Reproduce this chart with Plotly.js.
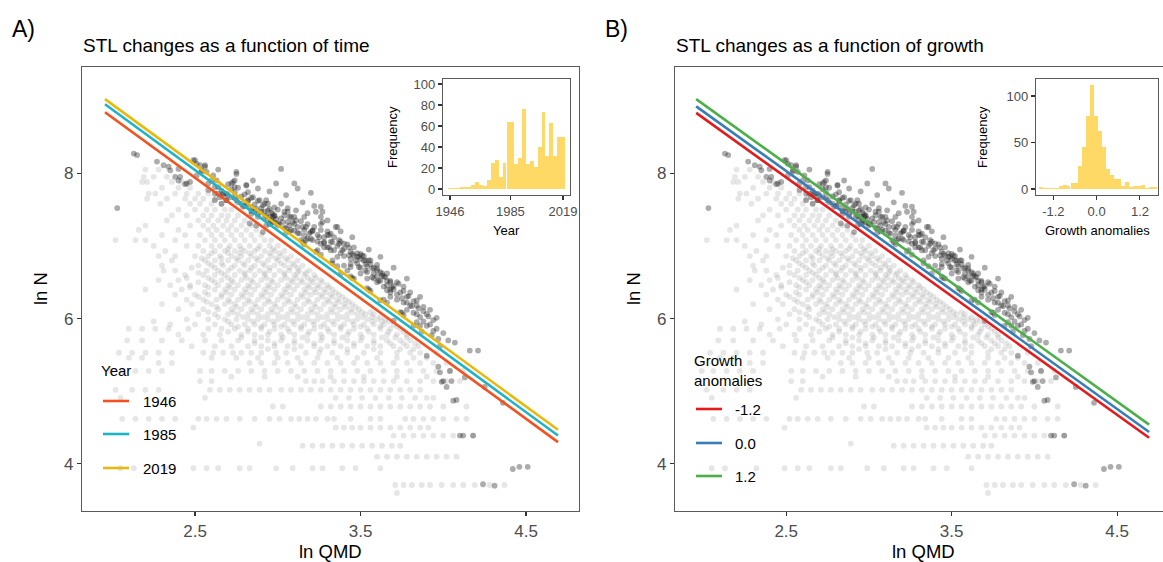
<!DOCTYPE html>
<html><head><meta charset="utf-8">
<script src="https://cdn.plot.ly/plotly-3.0.1.min.js"></script>
<style>html,body{margin:0;padding:0;background:#fff}#chart{width:1163px;height:562px}</style>
</head><body><div id="chart"></div>
<script>
// ---------- DATA ----------
// light grey points: [lnN, [lnQMD, ...]]
const lightRows = [
 [8.05,[2.20,2.28]],
 [7.95,[2.19,2.25,2.33]],
 [7.88,[2.18,2.21,2.36,2.42]],
 [7.80,[2.30,2.40,2.47]],
 [7.72,[2.22,2.26,2.38,2.45,2.52,2.58]],
 [7.65,[2.21,2.33,2.44,2.50,2.55,2.62]],
 [7.58,[2.29,2.47,2.53,2.60,2.66]],
 [7.50,[2.40,2.50,2.57,2.62,2.68,2.72]],
 [7.42,[2.36,2.45,2.55,2.60,2.66,2.70,2.76]],
 [7.35,[2.33,2.52,2.58,2.64,2.69,2.74,2.80]],
 [7.28,[2.20,2.47,2.55,2.61,2.67,2.72,2.78,2.84]],
 [7.22,[2.16,2.40,2.58,2.63,2.70,2.75,2.81,2.87]],
 [7.15,[2.30,2.44,2.53,2.60,2.66,2.72,2.78,2.84,2.90]],
 [7.08,[2.02,2.14,2.20,2.38,2.56,2.62,2.68,2.74,2.80,2.86,2.92,2.96]],
 [7.00,[2.25,2.45,2.52,2.60,2.65,2.71,2.77,2.83,2.89,2.95,3.00]],
 [6.96,[2.70,2.78,2.88,2.97]],
 [6.93,[2.32,2.55,2.62,2.68,2.74,2.80,2.86,2.92,2.98,3.04]],
 [6.90,[2.60,2.70,2.77,2.83,2.95,3.01]],
 [6.86,[2.28,2.38,2.50,2.58,2.65,2.72,2.78,2.84,2.90,2.96,3.02,3.08]],
 [6.83,[2.54,2.66,2.75,2.87,2.99,3.05]],
 [6.80,[2.36,2.56,2.62,2.70,2.76,2.82,2.88,2.94,3.00,3.06,3.12]],
 [6.76,[2.58,2.66,2.79,2.91,3.02,3.09]],
 [6.73,[2.30,2.52,2.60,2.67,2.74,2.80,2.86,2.92,2.98,3.04,3.10,3.15]],
 [6.70,[2.48,2.62,2.72,2.84,2.95,3.07,3.12]],
 [6.66,[2.31,2.38,2.57,2.64,2.70,2.77,2.83,2.89,2.95,3.01,3.07,3.13,3.19]],
 [6.63,[2.52,2.66,2.80,2.92,3.04,3.12,3.17]],
 [6.60,[2.44,2.55,2.62,2.68,2.74,2.80,2.86,2.92,2.98,3.04,3.10,3.16,3.22]],
 [6.56,[2.45,2.58,2.70,2.81,2.93,3.05,3.11,3.18,3.23]],
 [6.53,[2.28,2.40,2.60,2.66,2.72,2.78,2.84,2.90,2.96,3.02,3.08,3.14,3.20,3.26]],
 [6.50,[2.52,2.62,2.73,2.85,2.97,3.09,3.15,3.21,3.27]],
 [6.46,[2.35,2.47,2.56,2.64,2.70,2.76,2.82,2.88,2.94,3.00,3.06,3.12,3.18,3.24,3.30]],
 [6.43,[2.47,2.58,2.71,2.83,2.95,3.07,3.19,3.25,3.31]],
 [6.40,[2.20,2.42,2.62,2.68,2.74,2.80,2.86,2.92,2.98,3.04,3.10,3.16,3.22,3.28,3.33]],
 [6.36,[2.56,2.69,2.81,2.93,3.05,3.17,3.23,3.29,3.35]],
 [6.33,[2.38,2.50,2.58,2.66,2.72,2.78,2.84,2.90,2.96,3.02,3.08,3.14,3.20,3.26,3.32,3.37]],
 [6.30,[2.52,2.66,2.79,2.91,3.03,3.15,3.27,3.33,3.39]],
 [6.26,[2.45,2.55,2.63,2.70,2.76,2.82,2.88,2.94,3.00,3.06,3.12,3.18,3.24,3.30,3.36,3.41]],
 [6.23,[2.57,2.71,2.83,2.95,3.07,3.19,3.31,3.37,3.43]],
 [6.20,[2.30,2.48,2.60,2.68,2.74,2.80,2.86,2.92,2.98,3.04,3.10,3.16,3.22,3.28,3.34,3.40,3.45]],
 [6.16,[2.63,2.75,2.87,2.99,3.11,3.23,3.35,3.41,3.47]],
 [6.13,[2.40,2.55,2.64,2.72,2.78,2.84,2.90,2.96,3.02,3.08,3.14,3.20,3.26,3.32,3.38,3.44,3.49]],
 [6.09,[2.58,2.73,2.85,2.97,3.09,3.21,3.33,3.45,3.51,3.56]],
 [6.06,[2.52,2.62,2.70,2.76,2.82,2.88,2.94,3.00,3.06,3.12,3.18,3.24,3.30,3.36,3.42,3.48,3.53,3.58]],
 [6.02,[2.64,2.79,2.91,3.03,3.15,3.27,3.39,3.51,3.57,3.62]],
 [5.99,[2.45,2.58,2.68,2.75,2.82,2.88,2.94,3.00,3.06,3.12,3.18,3.24,3.30,3.36,3.42,3.48,3.54,3.60,3.65]],
 [5.96,[2.25,2.70,2.85,2.97,3.09,3.21,3.33,3.45,3.57,3.63,3.67]],
 [5.92,[2.35,2.50,2.62,2.72,2.80,2.86,2.92,2.98,3.04,3.10,3.16,3.22,3.28,3.34,3.40,3.46,3.52,3.58,3.64,3.70]],
 [5.89,[2.76,2.90,3.02,3.14,3.26,3.38,3.50,3.62,3.72]],
 [5.86,[2.10,2.18,2.26,2.34,2.46,2.58,2.66,2.74,2.82,2.90,2.98,3.06,3.14,3.22,3.30,3.38,3.46,3.54,3.62,3.68,3.74]],
 [5.82,[2.70,2.82,2.95,3.07,3.19,3.31,3.43,3.55,3.67,3.76]],
 [5.78,[2.40,2.55,2.65,2.78,2.86,2.94,3.02,3.10,3.18,3.26,3.34,3.42,3.50,3.58,3.66,3.72,3.78]],
 [5.74,[2.78,2.90,3.03,3.15,3.27,3.39,3.51,3.63,3.71,3.78]],
 [5.70,[2.09,2.18,2.30,2.42,2.56,2.66,2.76,2.86,2.94,3.02,3.10,3.18,3.26,3.34,3.42,3.50,3.58,3.66,3.74,3.80]],
 [5.66,[2.86,2.98,3.10,3.22,3.34,3.46,3.58,3.68,3.76,3.83]],
 [5.62,[2.48,2.62,2.72,2.82,2.90,2.98,3.06,3.14,3.22,3.30,3.38,3.46,3.54,3.62,3.70,3.78,3.85]],
 [5.58,[2.94,3.10,3.26,3.42,3.58,3.74,3.82]],
 [5.53,[2.04,2.12,2.20,2.28,2.36,2.55,2.61,2.67,2.73,2.78,2.84,2.90,2.99,3.05,3.17,3.25,3.33,3.42,3.52,3.62,3.72,3.80,3.86,3.96]],
 [5.46,[2.10,2.18,2.60,2.75,2.88,3.00,3.12,3.24,3.36,3.48,3.60,3.72,3.82,3.90]],
 [5.39,[2.28,2.36,2.83,2.90,2.98,3.06,3.14,3.22,3.30,3.38,3.46,3.54,3.62,3.70,3.78,3.86,3.94,4.02]],
 [5.28,[1.99,2.06,2.14,2.22,2.30,2.53,2.60,2.68,2.76,2.84,2.92,3.00,3.08,3.16,3.24,3.32,3.40,3.48,3.56,3.64,3.72,3.80,3.88,3.96,4.04,4.12]],
 [5.20,[2.72,2.92,3.12,3.32,3.52,3.72,3.90]],
 [5.14,[2.53,2.60,3.17,3.22,3.27,3.34,3.40,3.46,3.52,3.58,3.64,3.70,3.78,3.86,3.94,4.02,4.10]],
 [5.02,[2.02,2.12,2.20,2.28,2.59,2.65,2.71,2.77,2.83,2.89,2.95,3.02,3.08,3.14,3.20,3.26,3.32,3.38,3.44,3.50,3.56,3.62,3.68,3.74,3.80,3.86]],
 [4.91,[2.05,2.56,3.35,3.43,3.51,3.59,3.67,3.75,3.83,3.90,3.94]],
 [4.79,[2.97,3.03,3.26,3.32,3.38,3.44,3.50,3.56,3.62,3.68,3.74,3.80,3.86,3.92,4.00,4.14]],
 [4.62,[2.06,2.14,2.22,2.30,2.38,2.52,2.57,2.63,2.69,2.77,2.86,2.95,3.01,3.08,3.13,3.18,3.23,3.30,3.34,3.44,3.56,3.62,3.77,3.82,3.88,3.94,4.00,4.08,4.14]],
 [4.50,[2.49,3.35,3.40,3.45,3.50,3.56,3.62,3.68,3.74,3.80,3.86,3.91]],
 [4.39,[3.70,3.76,3.82,3.88,3.94,4.00,4.06,4.18]],
 [4.28,[2.89]],
 [4.25,[3.15,3.21,3.27,3.33,3.39,3.45,3.51,3.57,3.63,3.69,3.74]],
 [4.10,[3.60,3.66,3.72,3.78,3.84,3.90,3.96,4.02,4.08]],
 [3.94,[2.05,2.13,2.32,2.49,2.57,2.64,2.77,2.83,2.99,3.09,3.21,3.27,3.39,3.47,3.62]],
 [3.71,[3.71,3.76,3.81,3.87,3.92,3.99,4.06,4.12,4.19,4.28,4.37]],
 [3.60,[3.72]]
];
// dark points (self-thinning boundary): [lnQMD, lnN]
const darkPts = [
 [2.03,7.52],[2.13,8.27],[2.15,8.25],[2.27,8.16],[2.31,8.11],[2.34,8.09],[2.35,8.04],[2.40,8.06],[2.41,7.95],[2.45,7.86],
 [2.47,7.88],[2.50,8.18],[2.53,8.11],[2.56,8.11],[2.51,7.97],[2.54,8.02],[2.61,7.97],[2.63,7.90],[2.58,7.86],[2.64,7.81],
 [2.62,7.72],[2.67,7.70],[2.69,7.63],[2.66,7.58],[2.73,7.88],[2.75,7.99],[2.74,7.81],[2.81,7.83],[2.82,7.74],[2.85,7.67],
 [2.88,7.79],[2.89,7.63],[2.91,7.56],[2.93,7.63],[2.95,7.51],[2.97,7.44],[2.98,7.53],[3.02,8.06],[3.02,7.58],[3.04,7.47],
 [3.07,7.40],[3.09,7.33],[3.10,7.86],[3.12,7.79],[3.11,7.49],[3.16,7.40],[3.17,7.26],[3.20,7.73],[3.21,7.21],[3.23,7.47],
 [3.26,7.40],[3.27,7.33],[3.30,7.15],[3.32,7.17],[3.36,7.26],[3.37,7.08],[3.40,7.03],[3.43,6.98],[3.46,6.87],[3.48,6.85],
 [3.50,6.89],[3.52,6.80],[3.53,6.80],[3.56,6.75],[3.60,6.66],[3.63,6.59],[3.64,6.44],[3.60,6.50],[3.54,6.55],[3.50,6.62],
 [3.44,6.71],[3.40,6.73],[3.36,6.85],[3.32,6.94],[3.28,6.98],[3.26,7.03],[3.24,6.94],[3.21,7.08],[3.18,7.10],[3.13,7.17],
 [3.10,7.21],[3.07,7.28],[3.03,7.33],[2.99,7.37],[2.97,7.40],[2.93,7.42],[2.90,7.47],[2.87,7.51],[2.84,7.53],[2.81,7.56],
 [2.78,7.58],[2.75,7.63],[2.72,7.67],[2.69,7.72],[2.66,7.76],[2.64,7.72],[2.62,7.63],[2.99,7.86],[3.66,6.52],[3.68,6.40],
 [3.70,6.45],[3.72,6.33],[3.73,6.48],[3.75,6.28],[3.76,6.38],[3.78,6.22],[3.79,6.31],[3.81,6.17],[3.82,6.08],[3.84,6.25],
 [3.85,6.14],[3.86,6.02],[3.88,6.10],[3.90,5.90],[3.91,6.03],[3.93,5.77],[3.94,5.83],[3.96,6.01],[3.97,5.72],[3.98,5.26],
 [4.00,5.14],[4.02,5.06],[4.05,5.14],[4.07,5.67],[4.08,4.88],[4.10,4.39],[4.12,4.39],[4.13,5.19],[4.16,5.56],[4.18,4.39],
 [4.21,5.56],[4.24,3.72],[4.25,5.06],[4.31,3.70],[4.36,4.84],[4.42,3.93],[4.46,3.96],[4.51,3.96],[3.84,5.95],[3.70,5.97],
 [3.90,5.49],[3.97,5.34],[3.99,5.13],[4.04,5.28],[4.06,4.87],[3.82,5.90],[3.87,5.82],[3.75,6.08],[3.62,6.25],[3.55,6.40],
 [3.45,6.56],[3.38,6.62],[3.15,7.05],[3.05,7.18],[2.95,7.30],[3.33,6.80],[3.42,6.66],[3.58,6.55],[3.68,6.30],[3.78,6.12],
 [2.38,7.95],[2.40,7.90],[2.44,7.85],[2.49,8.18],[2.51,8.13],[2.54,8.04],[2.57,8.02],[2.56,8.09],[2.60,7.90],[2.62,7.81],
 [2.58,7.77],[2.64,8.05],[2.67,7.72],[2.65,7.67],[2.69,7.63],[2.72,7.86],[2.75,8.02],[2.74,7.90],[2.81,7.84],[2.82,7.63],
 [2.79,7.54],[2.84,7.44],[2.86,7.47],[2.88,7.40],[2.83,7.31],[2.87,7.28],[2.92,7.58],[2.94,7.49],[2.98,7.42],[2.96,7.35],
 [3.00,7.31],[2.93,7.28],[2.91,7.19],[3.06,7.47],[3.08,7.40],[3.11,7.35],[3.15,7.26],[3.19,7.17],[3.17,7.08],[3.21,7.21],
 [3.27,7.47],[3.26,7.54],[3.25,7.12],[3.28,7.05],[3.31,7.15],[3.35,7.26],[3.33,7.05],[3.37,7.03],[3.31,6.98],[3.39,6.94],
 [3.43,6.87],[3.45,6.89],[3.47,6.80],[3.49,6.85],[3.51,6.87],[3.53,6.75],[3.55,6.80],[3.57,6.69],[3.60,6.69],[3.63,6.62],
 [3.65,6.57],[3.68,6.50],[3.69,6.43],[3.66,6.39],[3.61,6.52],[3.57,6.57],[3.53,6.66],[3.49,6.71],[3.44,6.75],
 [2.70,7.70],[2.70,7.85],[2.72,7.78],[2.74,7.66],[2.74,7.74],[2.76,7.80],[2.76,7.60],[2.78,7.68],[2.80,7.55],[2.80,7.71],
 [2.82,7.62],[2.84,7.48],[2.84,7.66],[2.86,7.57],[2.88,7.44],[2.88,7.62],[2.90,7.52],[2.92,7.40],[2.92,7.47],[2.94,7.58],
 [2.94,7.36],[2.96,7.46],[2.98,7.32],[2.98,7.41],[3.00,7.50],[3.00,7.28],[3.02,7.38],[3.04,7.25],[3.04,7.42],[3.06,7.33],
 [3.06,7.52],[3.08,7.22],[3.10,7.30],[3.10,7.40],[3.12,7.18],[3.12,7.26],[3.14,7.34],[3.16,7.14],[3.16,7.22],[3.18,7.30],
 [3.18,7.45],[3.20,7.10],[3.20,7.19],[3.22,7.26],[3.24,7.06],[3.24,7.15],[3.26,7.22],[3.26,7.30],[3.28,7.04],[3.28,7.12],
 [3.30,6.98],[3.30,7.20],[3.32,7.06],[3.34,6.94],[3.34,7.12],[3.36,7.00],[3.38,6.90],[3.38,7.06],[3.40,6.96],[3.40,6.86],
 [3.42,7.02],[3.44,6.82],[3.44,6.92],[3.46,6.98],[3.48,6.76],[3.48,6.90],[3.50,6.82],[3.50,6.70],[3.52,6.86],[3.54,6.72],
 [3.54,6.64],[3.56,6.80],[3.58,6.62],[3.58,6.70],[3.60,6.58],[3.60,6.74],[3.62,6.52],[3.62,6.64],[3.64,6.58],[3.66,6.46],
 [3.66,6.62],[3.68,6.36],[3.68,6.52],[3.70,6.40],[3.72,6.50],[3.72,6.26],[3.74,6.36],[3.76,6.22],[3.76,6.44],[3.78,6.30],
 [3.80,6.18],[3.80,6.36],[3.82,6.24],[3.84,6.06],[3.84,6.18],[3.86,6.30],[3.88,5.96],[3.88,6.16],[3.90,6.06],[3.92,5.92],
 [3.92,6.12],[3.94,5.98],[3.96,5.86],[4.00,5.80],[4.03,5.70],[3.98,5.62],
 [2.95,7.40],[2.97,7.33],[3.01,7.30],[3.05,7.24],[3.07,7.20],[3.14,7.08],[3.16,7.02],[3.23,6.92],[3.26,6.88],[3.33,6.76],
 [3.36,6.72],[3.44,6.58],[3.46,6.55],[3.54,6.42],[3.56,6.38],[3.64,6.26],[3.66,6.22],[3.74,6.09],[3.76,6.05],[3.86,5.90],
 [3.05,7.70],[3.15,7.60],[3.22,7.55],[3.30,7.35],[3.38,7.20],[3.45,7.12],[3.55,6.95],[3.62,6.85],[3.70,6.70],[3.78,6.55],
 [2.85,7.90],[2.95,7.75]
];
// fitted lines
const fitQMD = [1.956, 4.693];
const yearLevels = ['1946','1985','2019'];
const yearFitLnN = [[8.84,4.30],[8.95,4.39],[9.02,4.47]];
const growthLevels = ['-1.2','0.0','1.2'];
const growthFitLnN = [[8.83,4.36],[8.92,4.44],[9.02,4.54]];
// inset histograms
const yearBins = [1946.0,1948.5,1951.0,1953.6,1956.1,1958.6,1961.1,1963.6,1966.1,1968.7,1971.2,1973.7,1976.2,1978.7,1981.2,1983.8,1986.3,1988.8,1991.3,1993.8,1996.3,1998.9,2001.4,2003.9,2006.4,2008.9,2011.4,2014.0,2016.5,2019.0];
const yearFreq = [1,1,1,2,2,2,4,7,4,3,9,25,28,11,25,64,64,24,30,76,24,27,21,40,73,31,63,31,50,50];
const growthBins = [-1.53,-1.43,-1.32,-1.21,-1.10,-0.99,-0.88,-0.78,-0.67,-0.56,-0.45,-0.34,-0.23,-0.13,-0.02,0.09,0.20,0.31,0.42,0.52,0.63,0.74,0.85,0.96,1.07,1.17,1.28,1.39,1.50,1.61];
const growthFreq = [2,1,1,1,1,3,4,3,6,6,25,45,78,112,78,62,45,22,15,11,11,3,7,2,3,3,4,1,2,2];
const mainTicks = [2.5,3.5,4.5];
const lnNTicks = [4,6,8];
const yearTicks = [1946,1985,2019];
const yearFreqTicks = [0,20,40,60,80,100];
const growthTicks = [-1.2,0,1.2];
const growthTickText = ['-1.2','0.0','1.2'];
const growthFreqTicks = [0,50,100];

// ---------- STYLE ----------
const W = 1163, H = 562;
const FONT = 'Liberation Sans, Arial, Helvetica, sans-serif';
const yearColors = ['#F4511E','#1EB4C8','#E8B80A'];
const growthColors = ['#E41A1C','#377EB8','#4DAF4A'];
const histColor = '#FFD966';
const px = v => v / W, py = v => 1 - v / H;

const lightX = [], lightY = [];
lightRows.forEach(([y, xs]) => xs.forEach(x => { lightX.push(x); lightY.push(y); }));
const darkX = darkPts.map(p => p[0]), darkY = darkPts.map(p => p[1]);

const traces = [];
function panel(xa, ya, levels, fits, colors) {
  traces.push({type:'scatter', mode:'markers', x:lightX, y:lightY, xaxis:xa, yaxis:ya,
    marker:{size:5.8, color:'rgba(150,150,150,0.24)', line:{width:0}}, hoverinfo:'skip', showlegend:false});
  traces.push({type:'scatter', mode:'markers', x:darkX, y:darkY, xaxis:xa, yaxis:ya,
    marker:{size:5.8, color:'rgba(25,25,25,0.36)', line:{width:0}}, hoverinfo:'skip', showlegend:false});
  levels.forEach((lv, i) => traces.push({type:'scatter', mode:'lines', x:fitQMD, y:fits[i], xaxis:xa, yaxis:ya,
    name:lv, line:{color:colors[i], width:2.6}, showlegend:false}));
}
panel('x','y', yearLevels, yearFitLnN, yearColors);
panel('x2','y2', growthLevels, growthFitLnN, growthColors);
traces.push({type:'bar', x:yearBins, y:yearFreq, width:2.517, xaxis:'x3', yaxis:'y3',
  marker:{color:histColor, line:{width:0}}, showlegend:false});
traces.push({type:'bar', x:growthBins, y:growthFreq, width:0.1083, xaxis:'x4', yaxis:'y4',
  marker:{color:histColor, line:{width:0}}, showlegend:false});

const axBase = {showgrid:false, zeroline:false, showline:true, mirror:true, linecolor:'#5a5a5a', linewidth:1.1,
  ticks:'outside', ticklen:4, tickwidth:1.1, tickcolor:'#333', fixedrange:true};
const mainTickFont = {family:FONT, size:17, color:'#4d4d4d'};
const insetTickFont = {family:FONT, size:13, color:'#4d4d4d'};
const yMainDom = [py(511), py(67)];
const yInsDom = [py(195), py(79)];

const layout = {
  width:W, height:H, margin:{l:0,r:0,t:0,b:0}, paper_bgcolor:'#fff', plot_bgcolor:'rgba(0,0,0,0)',
  showlegend:false, bargap:0,
  xaxis: Object.assign({}, axBase, {domain:[px(82), px(579)], range:[1.817,4.820], tickvals:mainTicks, ticktext:['2.5','3.5','4.5'], tickfont:mainTickFont, anchor:'y'}),
  yaxis: Object.assign({}, axBase, {domain:yMainDom, range:[3.352,9.462], tickvals:lnNTicks, tickfont:mainTickFont, anchor:'x'}),
  xaxis2: Object.assign({}, axBase, {domain:[px(675), 1], range:[1.828,4.777], tickvals:mainTicks, ticktext:['2.5','3.5','4.5'], tickfont:mainTickFont, anchor:'y2'}),
  yaxis2: Object.assign({}, axBase, {domain:yMainDom, range:[3.352,9.462], tickvals:lnNTicks, tickfont:mainTickFont, anchor:'x2'}),
  xaxis3: Object.assign({}, axBase, {domain:[px(443), px(570)], range:[1941.5,2023.5], tickvals:yearTicks, tickfont:insetTickFont, anchor:'y3'}),
  yaxis3: Object.assign({}, axBase, {domain:yInsDom, range:[-5.7,104.8], tickvals:yearFreqTicks, tickfont:insetTickFont, anchor:'x3'}),
  xaxis4: Object.assign({}, axBase, {domain:[px(1036), px(1158)], range:[-1.68,1.70], tickvals:growthTicks, ticktext:growthTickText, tickfont:insetTickFont, anchor:'y4'}),
  yaxis4: Object.assign({}, axBase, {domain:yInsDom, range:[-6.45,118.3], tickvals:growthFreqTicks, tickfont:insetTickFont, anchor:'x4'}),
  shapes:[], annotations:[]
};

function txt(text, x, y, size, opts) {
  layout.annotations.push(Object.assign({text:text, x:px(x), y:py(y), xref:'paper', yref:'paper', showarrow:false,
    xanchor:'left', yanchor:'middle', font:{family:FONT, size:size, color:'#000'}}, opts||{}));
}
// panel letters and titles
txt('A)', 10, 29, 23); txt('B)', 603, 29, 23);
txt('STL changes as a function of time', 81, 46, 19);
txt('STL changes as a function of growth', 674, 46, 19);
// axis titles
txt('ln QMD', 330, 551, 18.5, {xanchor:'center'});
txt('ln QMD', 923, 551, 18.5, {xanchor:'center'});
txt('ln N', 40, 289, 18.5, {xanchor:'center', textangle:-90});
txt('ln N', 633, 289, 18.5, {xanchor:'center', textangle:-90});
// inset axis titles
txt('Frequency', 393, 137, 13, {xanchor:'center', textangle:-90});
txt('Year', 506, 230, 13, {xanchor:'center'});
txt('Frequency', 983, 137, 13, {xanchor:'center', textangle:-90});
txt('Growth anomalies', 1097, 230, 13, {xanchor:'center'});
// legends
function legend(titleText, titleX, titleY, lineX0, labelX, ys, levels, colors) {
  txt(titleText, titleX, titleY, 15, {align:'left'});
  levels.forEach((lv, i) => {
    layout.shapes.push({type:'line', xref:'paper', yref:'paper', x0:px(lineX0), x1:px(lineX0+26), y0:py(ys[i]), y1:py(ys[i]),
      line:{color:colors[i], width:2.6}});
    txt(lv, labelX, ys[i], 15);
  });
}
legend('Year', 99, 370, 103, 141, [401,434,468], yearLevels, yearColors);
legend('Growth<br>anomalies', 692, 370, 696, 733, [409,443,476], growthLevels, growthColors);

Plotly.newPlot('chart', traces, layout, {staticPlot:true, displayModeBar:false});
</script></body></html>
